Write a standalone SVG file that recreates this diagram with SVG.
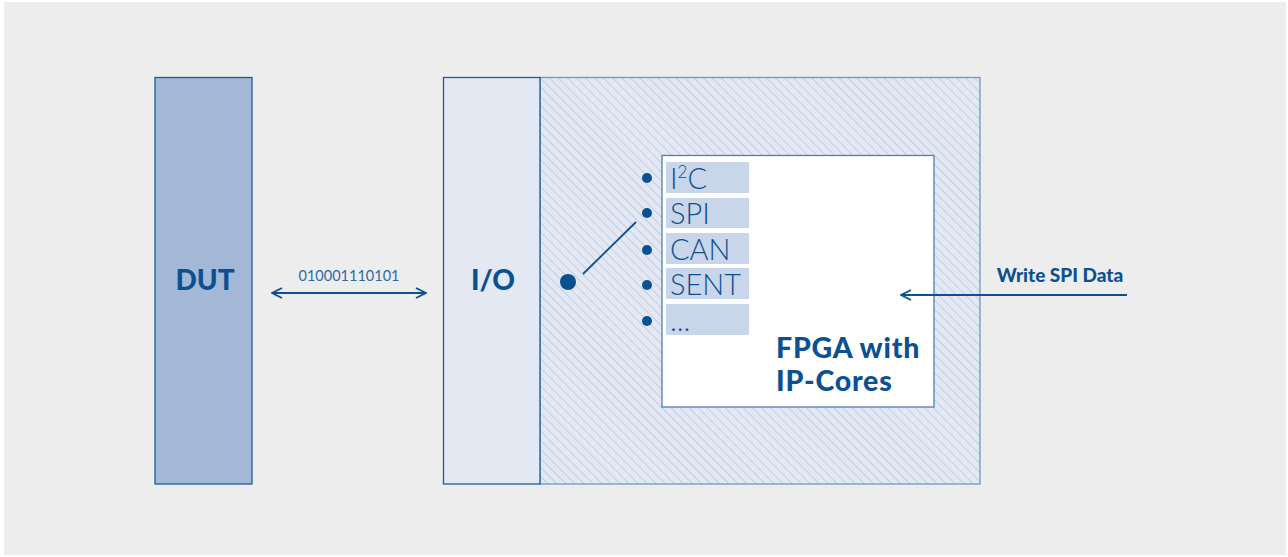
<svg xmlns="http://www.w3.org/2000/svg" width="1288" height="557" viewBox="0 0 1288 557">
<style>
.lbl{font-family:Lato,"Open Sans","Noto Sans",sans-serif;font-weight:300;font-size:29px;fill:#0b5191}
.bold{font-family:Lato,"Open Sans","Noto Sans",sans-serif;font-weight:900;fill:#0b5191}
.proto{fill:#c9d5e8}
.dot{fill:#0b5191}
.conn{stroke:#0b5191;stroke-width:1.8;fill:none}
</style>
<defs>
<pattern id="hatch" patternUnits="userSpaceOnUse" width="6.4" height="6.4" patternTransform="rotate(-45)">
<rect width="6.4" height="6.4" fill="#e3e8f2"/>
<line x1="0" y1="0" x2="0" y2="6.4" stroke="#b3c4e0" stroke-width="1.4"/>
</pattern>
<marker id="arr" viewBox="0 0 12 12" refX="11" refY="6" markerWidth="12" markerHeight="12" markerUnits="userSpaceOnUse" orient="auto-start-reverse">
<path d="M1,1 L11,6 L1,11" fill="none" stroke="#0b5191" stroke-width="1.8"/>
</marker>
</defs>
<rect width="1288" height="557" fill="#ffffff"/>
<rect x="4" y="2" width="1282" height="553" fill="#ededed"/>

<g id="dut">
<rect x="155" y="77.5" width="97" height="406.5" fill="#a3b8d6" stroke="#1a5e9a" stroke-width="1.3"/>
<text class="bold" x="205" y="290" font-size="28" text-anchor="middle">DUT</text>
</g>

<g id="fpga">
<rect x="540" y="77.5" width="440" height="406.5" fill="url(#hatch)" stroke="#6f98c6" stroke-width="1.3"/>
<rect x="662" y="155.5" width="272" height="251.5" fill="#ffffff" stroke="#4d80b4" stroke-width="1.3"/>
<text class="bold" x="776" y="358" font-size="28.5" letter-spacing="0.8">FPGA with</text>
<text class="bold" x="776" y="391" font-size="28.5" letter-spacing="0.8">IP-Cores</text>
</g>

<g id="io">
<rect x="443.5" y="77.5" width="96.5" height="406.5" fill="#e3e8f2" stroke="#1a5e9a" stroke-width="1.3"/>
<text class="bold" x="493" y="290" font-size="28" text-anchor="middle">I/O</text>
</g>

<g id="protocols">
<rect class="proto" x="666" y="162" width="83" height="31"/>
<rect class="proto" x="666" y="198" width="83" height="30"/>
<rect class="proto" x="666" y="233" width="83" height="31"/>
<rect class="proto" x="666" y="268" width="83" height="31"/>
<rect class="proto" x="666" y="304" width="83" height="31"/>
<text class="lbl" x="670" y="189">I<tspan font-size="17" dy="-11">2</tspan><tspan dy="11">C</tspan></text>
<text class="lbl" x="670" y="224">SPI</text>
<text class="lbl" x="670" y="260">CAN</text>
<text class="lbl" x="670" y="295">SENT</text>
<text class="lbl" x="670" y="331">...</text>
<circle class="dot" cx="647" cy="178" r="5"/>
<circle class="dot" cx="647" cy="213" r="5"/>
<circle class="dot" cx="647" cy="250" r="5"/>
<circle class="dot" cx="647" cy="285" r="5"/>
<circle class="dot" cx="647" cy="321" r="5"/>
</g>

<g id="switch">
<circle class="dot" cx="568" cy="282" r="8"/>
</g>

<g id="connectors">
<line class="conn" x1="583" y1="274" x2="636" y2="222"/>
<line class="conn" x1="272" y1="293" x2="426" y2="293" marker-start="url(#arr)" marker-end="url(#arr)"/>
<text x="349" y="281" font-family="Lato,'Open Sans','Noto Sans',sans-serif" font-size="14.5" fill="#2d6aa3" text-anchor="middle">010001110101</text>
<line class="conn" x1="1127" y1="295" x2="901" y2="295" marker-end="url(#arr)"/>
<text class="bold" x="1060" y="282" font-size="19" text-anchor="middle">Write SPI Data</text>
</g>
</svg>
